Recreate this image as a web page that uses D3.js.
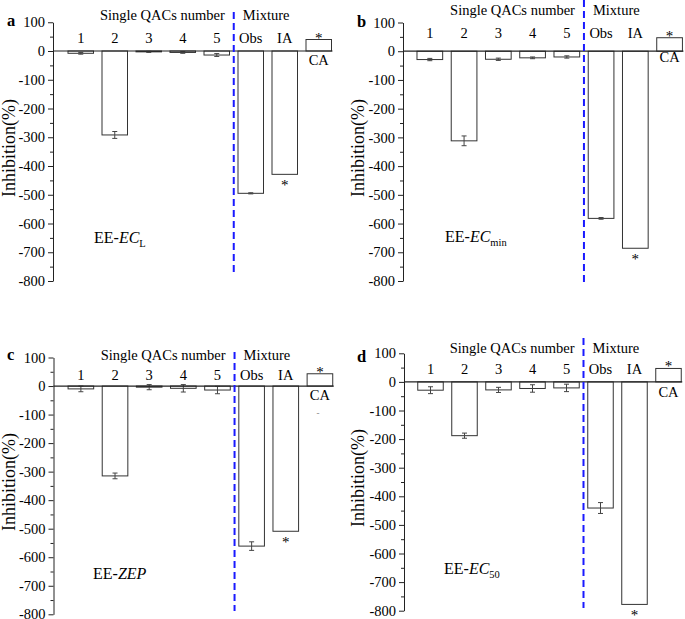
<!DOCTYPE html>
<html>
<head>
<meta charset="utf-8">
<script src="https://cdn.jsdelivr.net/npm/d3@7"></script>
<style>
  html, body { margin: 0; padding: 0; background: #fff; }
  svg { display: block; }
  svg text { font-family: "Liberation Serif", "Times New Roman", serif !important; }
</style>
</head>
<body>
<svg id="chart" width="685" height="619"></svg>
<script>
// ---------- DATA ----------
const categories = ["1", "2", "3", "4", "5", "Obs", "IA", "CA"];
const yTicks = [100, 0, -100, -200, -300, -400, -500, -600, -700, -800];
const yMinorTicks = [50, -50, -150, -250, -350, -450, -550, -650, -750];

const valuesA = [-8, -292, -3, -5, -14, -495, -429, 40];
const errorsA = [3, 12, 2, 3, 5, 2, 0, 0];
const valuesB = [-29, -312, -28, -23, -20, -582, -686, 47];
const errorsB = [4, 17, 4, 3, 4, 3, 0, 0];
const valuesC = [-10, -315, -4, -8, -14, -561, -509, 43];
const errorsC = [10, 10, 9, 13, 13, 15, 0, 0];
const valuesD = [-29, -188, -28, -23, -21, -441, -778, 47];
const errorsD = [12, 9, 9, 13, 13, 19, 0, 0];

const panelLetters = ["a", "b", "c", "d"];
const annotations = [
  { pre: "EE-", ital: "EC", sub: "L" },
  { pre: "EE-", ital: "EC", sub: "min" },
  { pre: "EE-", ital: "ZEP", sub: "" },
  { pre: "EE-", ital: "EC", sub: "50" }
];
const groupTitles = ["Single QACs number", "Mixture"];
const yTitle = "Inhibition(%)";

// ---------- LAYOUT ----------
const layouts = [
  { axisX: 53, yTop: 22.25, yBot: 281, bandStart: 63.75, step: 34.0, dashTop: 12, dashBot: 276,
    groupY: 20, catY: 43, caY: 65, letter: [7, 26], titleX: 15, titleY: 148, annot: [94, 243] },
  { axisX: 403, yTop: 22.5, yBot: 281, bandStart: 412.7, step: 34.25, dashTop: 0, dashBot: 283,
    groupY: 15, catY: 38, caY: 62, letter: [357, 27], titleX: 364, titleY: 148, annot: [445, 242] },
  { axisX: 53.5, yTop: 357.5, yBot: 614.3, bandStart: 63.8, step: 34.15, dashTop: 352, dashBot: 611,
    groupY: 360, catY: 380, caY: 400, letter: [7, 360], titleX: 15, titleY: 482, annot: [93, 579] },
  { axisX: 404, yTop: 353.3, yBot: 610.7, bandStart: 413.5, step: 34.0, dashTop: 338, dashBot: 608,
    groupY: 353, catY: 374, caY: 397, letter: [357, 362], titleX: 364, titleY: 478, annot: [444, 574] }
];

const panelValues = [valuesA, valuesB, valuesC, valuesD];
const panelErrors = [errorsA, errorsB, errorsC, errorsD];

const svg = d3.select("#chart");
const barStroke = "#333";
const ink = "#000";

panelValues.forEach((vals, pi) => {
  const L = layouts[pi];
  const errs = panelErrors[pi];
  const g = svg.append("g");

  const y = d3.scaleLinear().domain([100, -800]).range([L.yTop, L.yBot]);
  const x = d3.scaleBand().domain(categories)
    .range([L.bandStart, L.bandStart + categories.length * L.step])
    .paddingInner(0.25).paddingOuter(0.125);

  // bars
  g.selectAll("rect.bar").data(vals).join("rect")
    .attr("class", "bar")
    .attr("x", (d, i) => x(categories[i]))
    .attr("width", x.bandwidth())
    .attr("y", d => d < 0 ? y(0) : y(d))
    .attr("height", d => Math.abs(y(d) - y(0)))
    .attr("fill", "#fff")
    .attr("stroke", barStroke)
    .attr("stroke-width", 1);

  // error bars
  vals.forEach((v, i) => {
    const e = errs[i];
    if (!e) return;
    const cx = x(categories[i]) + x.bandwidth() / 2;
    const eg = g.append("g").attr("stroke", "#444").attr("stroke-width", 1).attr("fill", "none");
    eg.append("line").attr("x1", cx).attr("x2", cx).attr("y1", y(v + e)).attr("y2", y(v - e));
    eg.append("line").attr("x1", cx - 2.5).attr("x2", cx + 2.5).attr("y1", y(v + e)).attr("y2", y(v + e));
    eg.append("line").attr("x1", cx - 2.5).attr("x2", cx + 2.5).attr("y1", y(v - e)).attr("y2", y(v - e));
  });

  // zero line
  g.append("line")
    .attr("x1", L.axisX).attr("x2", x("CA") + x.bandwidth() + 1)
    .attr("y1", y(0)).attr("y2", y(0))
    .attr("stroke", "#222").attr("stroke-width", 1.2);

  // y axis
  const axis = d3.axisLeft(y).tickValues(yTicks).tickSize(5).tickPadding(3)
    .tickSizeOuter(0).tickFormat(d => String(d));
  const ag = g.append("g").attr("transform", `translate(${L.axisX},0)`).call(axis);
  ag.attr("font-family", null);
  ag.select(".domain").attr("stroke", "#222");
  ag.selectAll(".tick line").attr("stroke", "#222");
  ag.selectAll(".tick text").attr("font-size", 14.5).attr("fill", ink);
  const minor = d3.axisLeft(y).tickValues(yMinorTicks).tickSize(3).tickFormat("");
  const mg = g.append("g").attr("transform", `translate(${L.axisX},0)`).call(minor);
  mg.select(".domain").remove();
  mg.selectAll(".tick line").attr("stroke", "#222");

  // dashed separator
  const dashX = x("Obs") - x.step() * 0.125;
  g.append("line")
    .attr("x1", dashX).attr("x2", dashX)
    .attr("y1", L.dashTop).attr("y2", L.dashBot)
    .attr("stroke", "#1a1aff").attr("stroke-width", 2)
    .attr("stroke-dasharray", "7,4");

  // group titles
  g.append("text").attr("x", dashX - 9).attr("y", L.groupY)
    .attr("text-anchor", "end").attr("font-size", 14.5).attr("fill", ink).text(groupTitles[0]);
  g.append("text").attr("x", dashX + 9).attr("y", L.groupY)
    .attr("text-anchor", "start").attr("font-size", 14.5).attr("fill", ink).text(groupTitles[1]);

  // category labels
  categories.forEach((c, i) => {
    const cx = x(c) + x.bandwidth() / 2;
    g.append("text").attr("x", cx).attr("y", c === "CA" ? L.caY : L.catY)
      .attr("text-anchor", "middle").attr("font-size", 14.5).attr("fill", ink).text(c);
  });

  // asterisks
  const caI = categories.indexOf("CA"), iaI = categories.indexOf("IA");
  g.append("text").attr("x", x("CA") + x.bandwidth() / 2).attr("y", y(vals[caI]) + 3)
    .attr("text-anchor", "middle").attr("font-size", 15).attr("fill", ink).text("*");
  g.append("text").attr("x", x("IA") + x.bandwidth() / 2).attr("y", y(vals[iaI]) + 16)
    .attr("text-anchor", "middle").attr("font-size", 15).attr("fill", ink).text("*");
  if (pi === 2) {
    g.append("text").attr("x", x("CA") + x.bandwidth() / 2 - 2).attr("y", L.caY + 16)
      .attr("text-anchor", "middle").attr("font-size", 9).attr("fill", "#777").text("-");
  }

  // panel letter
  g.append("text").attr("x", L.letter[0]).attr("y", L.letter[1])
    .attr("font-size", 16.5).attr("font-weight", "bold").attr("fill", ink).text(panelLetters[pi]);

  // y title
  g.append("text")
    .attr("transform", `translate(${L.titleX},${L.titleY}) rotate(-90)`)
    .attr("text-anchor", "middle").attr("font-size", 18).attr("fill", ink).text(yTitle);

  // annotation
  const an = annotations[pi];
  const t = g.append("text").attr("x", L.annot[0]).attr("y", L.annot[1])
    .attr("font-size", 16).attr("fill", ink);
  t.append("tspan").text(an.pre);
  t.append("tspan").attr("font-style", "italic").text(an.ital);
  if (an.sub) t.append("tspan").attr("font-size", 10.5).attr("dy", 4).text(an.sub);
});
</script>
</body>
</html>
